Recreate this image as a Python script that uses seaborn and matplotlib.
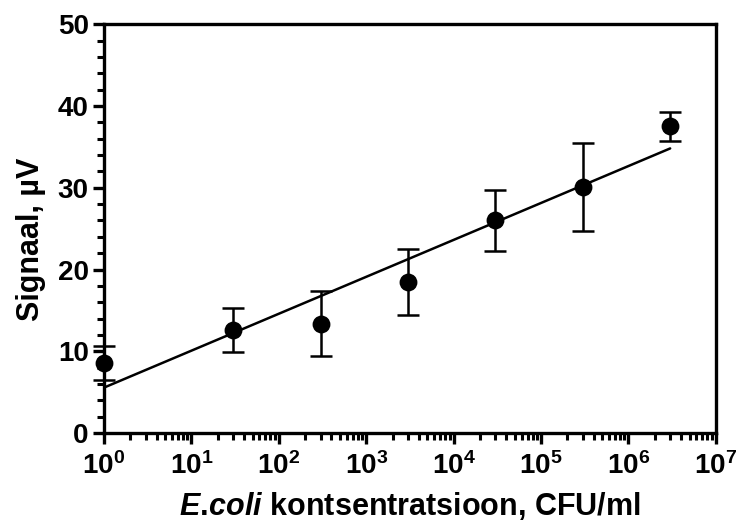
import numpy as np
import pandas as pd
import matplotlib
matplotlib.use("Agg")
import matplotlib.pyplot as plt
import seaborn as sns
from matplotlib.ticker import LogLocator, MultipleLocator, FixedLocator, FixedFormatter, NullFormatter

# ---- data ----
concentration = [1, 30, 300, 3000, 30000, 300000, 3000000]
signal = [8.6, 12.6, 13.4, 18.5, 26.0, 30.1, 37.5]
sd = [2.1, 2.7, 4.0, 4.0, 3.7, 5.4, 1.8]
xtick_exponents = [0, 1, 2, 3, 4, 5, 6, 7]
ytick_values = [0, 10, 20, 30, 40, 50]

sns.set_theme(style="ticks")
plt.rcParams["font.family"] = ["Liberation Sans", "DejaVu Sans"]
plt.rcParams["font.weight"] = "bold"
plt.rcParams["text.color"] = "black"
plt.rcParams["axes.labelcolor"] = "black"
plt.rcParams["mathtext.fontset"] = "custom"
plt.rcParams["mathtext.rm"] = "Liberation Sans:bold"
plt.rcParams["mathtext.bf"] = "Liberation Sans:bold"
plt.rcParams["mathtext.it"] = "Liberation Sans:italic:bold"

df = pd.DataFrame({"conc": concentration, "signal": signal, "sd": sd})

fig = plt.figure(figsize=(7.38, 5.25), dpi=100)
ax = fig.add_axes([0.141, 0.175, 0.829, 0.779])

sns.regplot(data=df, x="conc", y="signal", logx=True, ci=None, scatter=False,
            color="black", line_kws=dict(lw=1.8), ax=ax)

eb = ax.errorbar(df["conc"], df["signal"], yerr=df["sd"], fmt="none",
                 ecolor="black", elinewidth=1.8, capsize=8, capthick=1.8)
for art in eb.lines[1]:
    art.set_clip_on(False)
for art in eb.lines[2]:
    art.set_clip_on(False)

sns.scatterplot(data=df, x="conc", y="signal", s=165, color="black",
                edgecolor="black", linewidth=0, ax=ax, zorder=5, clip_on=False)

ax.set_xscale("log")
ax.set_xlim(1, 1e7)
ax.set_ylim(0, 50)

ax.xaxis.set_major_locator(FixedLocator([10.0 ** e for e in xtick_exponents]))
ax.xaxis.set_major_formatter(FixedFormatter([r"$\mathbf{10^{%d}}$" % e for e in xtick_exponents]))
ax.xaxis.set_minor_locator(LogLocator(base=10, subs=np.arange(2, 10), numticks=20))
ax.xaxis.set_minor_formatter(NullFormatter())
ax.yaxis.set_major_locator(FixedLocator(ytick_values))
ax.yaxis.set_minor_locator(MultipleLocator(2))

for s in ax.spines.values():
    s.set_linewidth(2.4)
    s.set_color("black")

ax.tick_params(axis="both", which="major", direction="out", length=8, width=2.4,
               colors="black", labelsize=20)
ax.tick_params(axis="both", which="minor", direction="out", length=5, width=2.2,
               colors="black")
ax.tick_params(axis="y", which="major", pad=3)
ax.tick_params(axis="x", which="major", pad=6)
for lab in ax.get_yticklabels():
    lab.set_fontweight("bold")

ax.set_xlabel(r"$\mathit{E.\!coli}$ kontsentratsioon, CFU/ml", fontsize=22,
              fontweight="bold", labelpad=7)
ax.set_ylabel("Signaal, µV", fontsize=22, fontweight="bold")
ax.yaxis.set_label_coords(-0.095, 0.475)

fig.savefig("out.png", dpi=100)
